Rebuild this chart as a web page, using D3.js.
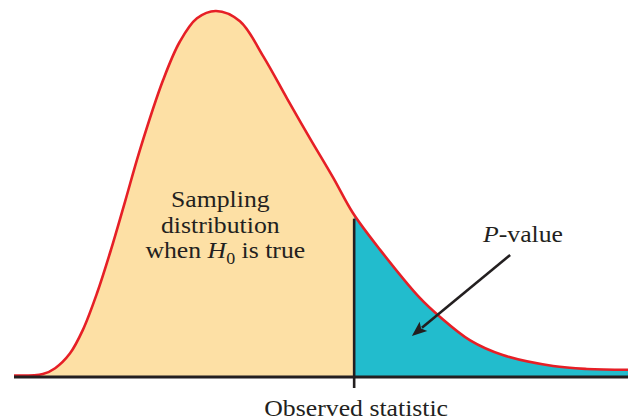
<!DOCTYPE html>
<html>
<head>
<meta charset="utf-8">
<script src="https://cdn.jsdelivr.net/npm/d3@7/dist/d3.min.js"></script>
<style>
  html, body { margin: 0; padding: 0; background: #ffffff; }
  svg { display: block; }
  text { font-family: "Liberation Serif", "Times New Roman", serif; fill: #231F20; }
</style>
</head>
<body>
<svg id="chart" width="628" height="420"></svg>
<script>
// Sampling distribution of the test statistic under H0 (right-skewed density)
const statValues = [0.00, 0.47, 0.67, 0.91, 1.12, 1.35, 1.58, 1.81, 2.05, 2.43, 2.70, 2.98, 3.29,
                    3.68, 4.06, 4.45, 4.82, 5.20, 5.52, 5.96, 6.61, 6.94, 7.43, 7.96, 8.78, 9.33, 10.00];
const densityValues = [0.001, 0.002, 0.006, 0.016, 0.032, 0.057, 0.087, 0.120, 0.155, 0.203, 0.229, 0.245, 0.250,
                       0.243, 0.219, 0.190, 0.163, 0.136, 0.112, 0.087, 0.054, 0.041, 0.025, 0.015, 0.0075, 0.0055, 0.005];

// Observed value of the statistic; the tail area beyond it is the P-value
const observedStatistic = 5.54;

// Text
const axisLabel = "Observed statistic";
const distLabelLines = ["Sampling", "distribution"];
const pLabel = { italic: "P", rest: "-value" };

const W = 628, H = 420;
const margin = { left: 14, right: 0, top: 11, bottom: 43 };

const svg = d3.select("#chart");

const x = d3.scaleLinear().domain([0, 10]).range([margin.left, W - margin.right]);
const y = d3.scaleLinear().domain([0, 0.25]).range([H - margin.bottom, margin.top]);

const pts = statValues.map((v, i) => ({ x: v, d: densityValues[i] }));
const curve = d3.curveCatmullRom.alpha(0.5);

const area = d3.area()
  .x(p => x(p.x))
  .y0(y(0))
  .y1(p => y(p.d))
  .curve(curve);

const line = d3.line()
  .x(p => x(p.x))
  .y(p => y(p.d))
  .curve(curve);

const xObs = x(observedStatistic);

const defs = svg.append("defs");
defs.append("clipPath").attr("id", "leftClip")
  .append("rect").attr("x", 0).attr("y", 0).attr("width", xObs).attr("height", H);
defs.append("clipPath").attr("id", "rightClip")
  .append("rect").attr("x", xObs).attr("y", 0).attr("width", W - xObs).attr("height", H);

// Body of the distribution and the upper tail
svg.append("path").datum(pts).attr("d", area)
  .attr("fill", "#FDE0A5").attr("clip-path", "url(#leftClip)");
svg.append("path").datum(pts).attr("d", area)
  .attr("fill", "#22BCCD").attr("clip-path", "url(#rightClip)");

// Density curve
svg.append("path").datum(pts).attr("d", line)
  .attr("fill", "none").attr("stroke", "#E61F26").attr("stroke-width", 2.6)
  .attr("stroke-linejoin", "round");

// Height of the curve at the observed statistic (linear between readings)
const bis = d3.bisector(p => p.x).left;
const k = bis(pts, observedStatistic);
const p0 = pts[k - 1], p1 = pts[k];
const dObs = p0.d + (p1.d - p0.d) * (observedStatistic - p0.x) / (p1.x - p0.x);

// Divider at the observed statistic
svg.append("line")
  .attr("x1", xObs).attr("x2", xObs)
  .attr("y1", y(0)).attr("y2", y(dObs) + 4)
  .attr("stroke", "#231F20").attr("stroke-width", 2.6);

// Horizontal axis with the single tick
svg.append("line")
  .attr("x1", x(0)).attr("x2", x(10))
  .attr("y1", y(0)).attr("y2", y(0))
  .attr("stroke", "#231F20").attr("stroke-width", 3);
svg.append("line")
  .attr("x1", xObs).attr("x2", xObs)
  .attr("y1", y(0)).attr("y2", y(0) + 11)
  .attr("stroke", "#231F20").attr("stroke-width", 2.6);

const stretch = "scale(1.12,1)";
const fs = 23;

svg.append("text")
  .attr("transform", `translate(${xObs + 2},${H - 4}) ${stretch}`)
  .attr("text-anchor", "middle").attr("font-size", fs)
  .text(axisLabel);

// Label inside the body of the distribution
const labelX = x(3.36), labelY = y(0.116);
distLabelLines.forEach((s, i) => {
  svg.append("text")
    .attr("transform", `translate(${labelX},${labelY + i * 26}) ${stretch}`)
    .attr("text-anchor", "middle").attr("font-size", fs)
    .text(s);
});
const t3 = svg.append("text")
  .attr("transform", `translate(${labelX + 5},${labelY + 2 * 25.5}) ${stretch}`)
  .attr("text-anchor", "middle").attr("font-size", fs);
t3.append("tspan").text("when ");
t3.append("tspan").attr("font-style", "italic").text("H");
t3.append("tspan").attr("font-size", 16).attr("dy", 6).text("0");
t3.append("tspan").attr("dy", -6).text(" is true");

// P-value annotation
const pt = svg.append("text")
  .attr("transform", `translate(${x(8.29)},${y(0.0922)}) ${stretch}`)
  .attr("text-anchor", "middle").attr("font-size", fs);
pt.append("tspan").attr("font-style", "italic").text(pLabel.italic);
pt.append("tspan").text(pLabel.rest);

const a0 = [x(8.08), y(0.0833)], a1 = [x(6.48), y(0.028)];
const ang = Math.atan2(a1[1] - a0[1], a1[0] - a0[0]);
const headLen = 15, headHalf = 6;
const base = [a1[0] - headLen * Math.cos(ang), a1[1] - headLen * Math.sin(ang)];
svg.append("line")
  .attr("x1", a0[0]).attr("y1", a0[1])
  .attr("x2", base[0] + 2 * Math.cos(ang)).attr("y2", base[1] + 2 * Math.sin(ang))
  .attr("stroke", "#231F20").attr("stroke-width", 2.6);
const nx = -Math.sin(ang), ny = Math.cos(ang);
svg.append("path")
  .attr("d", d3.line()([
    a1,
    [base[0] + headHalf * nx, base[1] + headHalf * ny],
    [base[0] + 3 * Math.cos(ang), base[1] + 3 * Math.sin(ang)],
    [base[0] - headHalf * nx, base[1] - headHalf * ny]
  ]) + "Z")
  .attr("fill", "#231F20");
</script>
</body>
</html>
